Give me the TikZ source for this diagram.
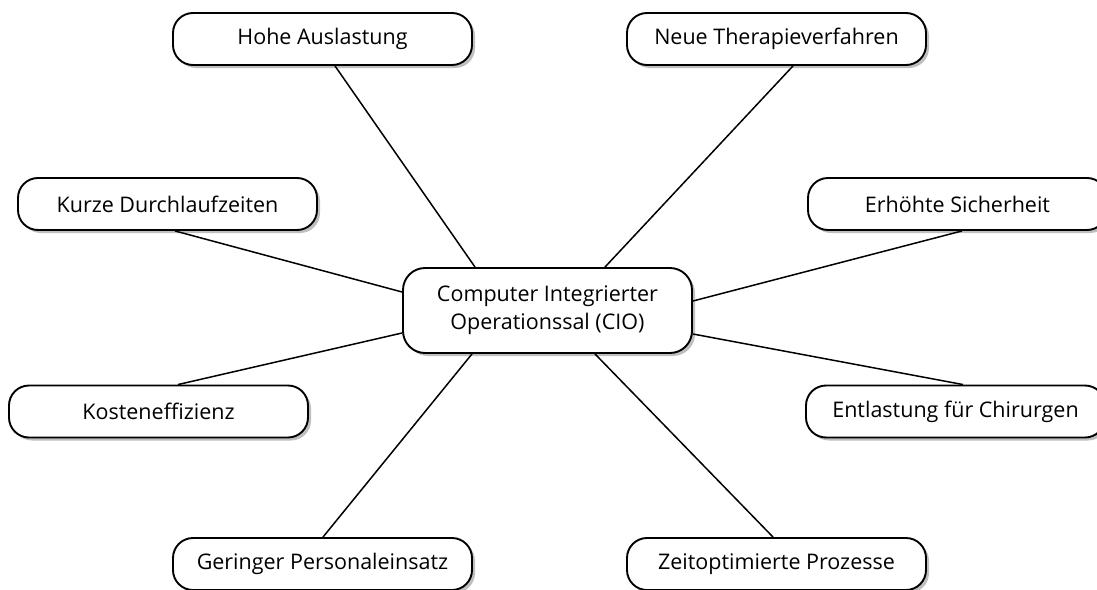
\documentclass[tikz,border=0pt]{standalone}
\usepackage{fontspec}
\setmainfont{Open Sans}
\usetikzlibrary{shadows}

\begin{document}
\begin{tikzpicture}[x=1pt,y=-1pt,
  box/.style={draw,line width=1.9pt,rounded corners=20pt,fill=white,
    minimum width=299pt,minimum height=52pt,inner sep=0pt,
    font=\fontsize{21.5}{28}\selectfont,
    drop shadow={shadow xshift=3pt,shadow yshift=-3pt,opacity=0.5}},
  link/.style={line width=1.5pt}]
  \clip (0,0) rectangle (1097,589);
  \fill[white] (0,0) rectangle (1097,589);
  % outer boxes
  \foreach \n/\x/\y/\t in {hohe/322.5/39/Hohe Auslastung,neue/776.5/39/Neue Therapieverfahren,
    kurze/167.5/204/Kurze Durchlaufzeiten,erh/957.5/204/Erhöhte Sicherheit,
    kosten/158.5/411.5/Kosteneffizienz,entl/955.5/411.5/Entlastung für Chirurgen,
    gering/322.5/564/Geringer Personaleinsatz,zeit/776.5/564/Zeitoptimierte Prozesse}
    {\node[box] (\n) at (\x,\y) {\t};}
  \node[box,minimum width=289pt,minimum height=85pt,rounded corners=22pt,align=center] (cio) at (547.5,310.5)
    {Computer Integrierter\\Operationssal (CIO)};
  % links to the centre
  \draw[link] ([xshift=12.5pt]hohe.south) -- ([xshift=-72.5pt]cio.north);
  \draw[link] ([xshift=16.5pt]neue.south) -- ([xshift=57.5pt]cio.north);
  \draw[link] ([xshift=7.5pt]kurze.south) -- ([yshift=18.5pt]cio.west);
  \draw[link] ([xshift=4.5pt]erh.south) -- ([yshift=9.5pt]cio.east);
  \draw[link] ([xshift=19.5pt]kosten.north) -- ([yshift=-22.5pt]cio.west);
  \draw[link] ([xshift=7.5pt]entl.north) -- ([yshift=-23.5pt]cio.east);
  \draw[link] ([xshift=0.5pt]gering.north) -- ([xshift=-75.5pt]cio.south);
  \draw[link] ([xshift=-3.5pt]zeit.north) -- ([xshift=47.5pt]cio.south);
\end{tikzpicture}
\end{document}
